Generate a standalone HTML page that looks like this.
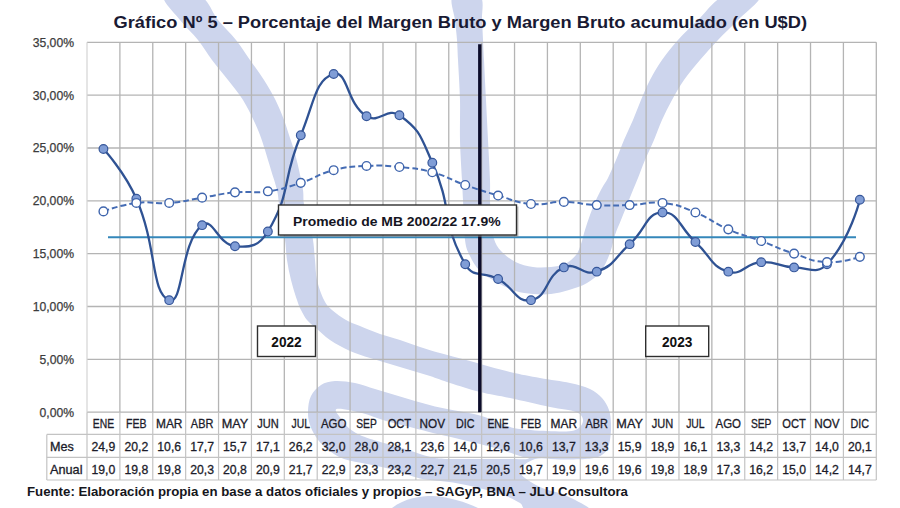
<!DOCTYPE html>
<html lang="es"><head><meta charset="utf-8"><title>Gráfico Nº 5</title>
<style>html,body{margin:0;padding:0;background:#fff}body{width:900px;height:508px;overflow:hidden;font-family:"Liberation Sans",sans-serif}svg{display:block}text{font-family:"Liberation Sans",sans-serif}</style></head><body>
<svg width="900" height="508" viewBox="0 0 900 508">
<rect width="900" height="508" fill="#fff"/>
<g fill="#cdd5ed">
<path d="M200.0,-4.0 C209.0,0.0 212.0,12.7 218.0,20.0 C224.0,27.3 230.7,33.3 236.0,40.0 C241.3,46.7 245.3,53.3 250.0,60.0 C254.7,66.7 259.8,73.3 264.0,80.0 C268.2,86.7 272.2,93.3 275.5,100.0 C278.8,106.7 281.8,114.2 284.0,120.0 C286.2,125.8 287.3,130.0 289.0,135.0 C290.7,140.0 292.3,144.2 294.0,150.0 C295.7,155.8 297.5,163.3 299.0,170.0 C300.5,176.7 302.2,184.3 303.0,190.0 C303.8,195.7 303.0,198.7 304.0,204.0 C305.0,209.3 307.5,216.0 309.0,222.0 C310.5,228.0 312.0,233.7 313.0,240.0 C314.0,246.3 314.3,253.3 315.0,260.0 C315.7,266.7 315.5,273.3 317.0,280.0 C318.5,286.7 321.5,295.0 324.0,300.0 C326.5,305.0 328.3,306.7 332.0,310.0 C335.7,313.3 341.3,317.3 346.0,320.0 C350.7,322.7 354.3,323.7 360.0,326.0 C365.7,328.3 373.3,331.7 380.0,334.0 C386.7,336.3 393.3,337.8 400.0,340.0 C406.7,342.2 413.3,344.8 420.0,347.0 C426.7,349.2 431.7,350.7 440.0,353.0 C448.3,355.3 458.3,357.8 470.0,361.0 C481.7,364.2 498.3,369.2 510.0,372.0 C521.7,374.8 530.0,376.2 540.0,378.0 C550.0,379.8 561.7,381.2 570.0,383.0 C578.3,384.8 584.7,386.5 590.0,389.0 C595.3,391.5 598.8,394.5 602.0,398.0 C605.2,401.5 607.5,405.7 609.0,410.0 C610.5,414.3 610.8,419.0 611.0,424.0 C611.2,429.0 610.8,435.5 610.0,440.0 C609.2,444.5 608.0,448.2 606.0,451.0 C604.0,453.8 601.5,455.7 598.0,457.0 C594.5,458.3 591.3,458.6 585.0,459.0 C578.7,459.4 568.3,459.5 560.0,459.5 C551.7,459.5 541.7,456.9 535.0,459.0 C528.3,461.1 519.2,467.3 520.0,472.0 C520.8,476.7 532.2,483.0 540.0,487.0 C547.8,491.0 558.7,491.8 567.0,496.0 C575.3,500.2 595.8,509.3 590.0,512.0 C584.2,514.7 543.7,513.5 532.0,512.0 C520.3,510.5 524.2,505.6 520.0,503.0 C515.8,500.4 513.2,498.8 507.0,496.5 C500.8,494.2 492.0,491.3 483.0,489.0 C474.0,486.7 463.5,484.2 453.0,482.5 C442.5,480.8 429.8,480.6 420.0,478.5 C410.2,476.4 402.8,472.4 394.0,470.0 C385.2,467.6 375.3,465.8 367.0,464.0 C358.7,462.2 350.7,461.5 344.0,459.0 C337.3,456.5 331.7,452.7 327.0,449.0 C322.3,445.3 318.9,441.2 316.0,437.0 C313.1,432.8 311.0,428.3 309.7,424.0 C308.4,419.7 307.8,415.7 308.0,411.0 C308.2,406.3 308.8,400.3 311.0,396.0 C313.2,391.7 317.0,387.5 321.0,385.0 C325.0,382.5 329.3,381.3 335.0,381.0 C340.7,380.7 348.3,381.7 355.0,383.0 C361.7,384.3 368.3,387.0 375.0,389.0 C381.7,391.0 388.3,393.0 395.0,395.0 C401.7,397.0 408.3,399.1 415.0,401.0 C421.7,402.9 428.3,404.9 435.0,406.5 C441.7,408.1 447.5,409.0 455.0,410.5 C462.5,412.0 472.5,413.4 480.0,415.5 C487.5,417.6 494.0,420.8 500.0,423.0 C506.0,425.2 508.2,427.2 516.0,428.5 C523.8,429.8 537.3,430.7 547.0,431.0 C556.7,431.3 568.0,432.2 574.0,430.5 C580.0,428.8 582.7,424.1 583.0,421.0 C583.3,417.9 581.5,414.3 576.0,412.0 C570.5,409.7 561.0,409.3 550.0,407.0 C539.0,404.7 521.7,400.5 510.0,398.0 C498.3,395.5 490.0,394.5 480.0,392.0 C470.0,389.5 458.3,385.7 450.0,383.0 C441.7,380.3 436.7,378.2 430.0,376.0 C423.3,373.8 416.7,372.0 410.0,370.0 C403.3,368.0 396.7,366.0 390.0,364.0 C383.3,362.0 376.7,360.2 370.0,358.0 C363.3,355.8 356.7,354.0 350.0,351.0 C343.3,348.0 335.7,343.8 330.0,340.0 C324.3,336.2 319.8,331.3 316.0,328.0 C312.2,324.7 309.5,323.0 307.0,320.0 C304.5,317.0 302.7,313.3 301.0,310.0 C299.3,306.7 298.7,305.0 297.0,300.0 C295.3,295.0 292.7,286.7 291.0,280.0 C289.3,273.3 288.0,266.7 287.0,260.0 C286.0,253.3 286.0,246.3 285.0,240.0 C284.0,233.7 282.0,228.0 281.0,222.0 C280.0,216.0 279.7,209.3 279.0,204.0 C278.3,198.7 278.3,195.7 277.0,190.0 C275.7,184.3 273.0,176.7 271.0,170.0 C269.0,163.3 266.8,155.8 265.0,150.0 C263.2,144.2 261.9,140.0 260.0,135.0 C258.1,130.0 256.3,125.8 253.5,120.0 C250.7,114.2 247.2,106.7 243.0,100.0 C238.8,93.3 233.2,86.7 228.0,80.0 C222.8,73.3 217.0,66.7 212.0,60.0 C207.0,53.3 203.3,46.7 198.0,40.0 C192.7,33.3 185.7,27.3 180.0,20.0 C174.3,12.7 160.7,0.0 164.0,-4.0 C167.3,-8.0 191.0,-8.0 200.0,-4.0Z"/>
</g>
<path d="M336.5,409.0 C339.7,407.7 353.8,411.0 362.0,413.0 C370.2,415.0 378.0,418.7 386.0,421.0 C394.0,423.3 401.8,424.9 410.0,427.0 C418.2,429.1 427.5,431.7 435.0,433.5 C442.5,435.3 447.5,436.2 455.0,438.0 C462.5,439.8 472.5,442.1 480.0,444.0 C487.5,445.9 493.3,447.5 500.0,449.5 C506.7,451.5 515.3,454.4 520.0,456.0 C524.7,457.6 531.3,458.5 528.0,459.0 C524.7,459.5 513.2,459.0 500.0,459.0 C486.8,459.0 459.8,459.2 449.0,459.0 C438.2,458.8 439.8,458.8 435.0,458.0 C430.2,457.2 425.0,455.5 420.0,454.0 C415.0,452.5 411.0,450.8 405.0,449.0 C399.0,447.2 391.2,445.2 384.0,443.0 C376.8,440.8 367.7,438.3 362.0,436.0 C356.3,433.7 353.2,431.5 350.0,429.0 C346.8,426.5 345.2,424.3 343.0,421.0 C340.8,417.7 333.3,410.3 336.5,409.0Z" fill="#fff"/>
<path d="M453.0,-4.0 C448.8,0.0 454.3,12.7 455.0,20.0 C455.7,27.3 456.5,33.3 457.0,40.0 C457.5,46.7 457.5,50.0 458.0,60.0 C458.5,70.0 459.7,86.7 460.0,100.0 C460.3,113.3 459.7,126.7 460.0,140.0 C460.3,153.3 461.5,170.0 462.0,180.0 C462.5,190.0 462.5,190.0 463.0,200.0 C463.5,210.0 463.8,230.7 465.0,240.0 C466.2,249.3 467.5,250.8 470.0,256.0 C472.5,261.2 475.3,266.5 480.0,271.0 C484.7,275.5 492.1,279.7 498.0,283.0 C503.9,286.3 509.7,289.2 515.5,291.0 C521.3,292.8 527.1,293.5 533.0,294.0 C538.9,294.5 545.0,294.7 551.0,294.0 C557.0,293.3 563.0,291.8 569.0,290.0 C575.0,288.2 581.7,286.2 587.0,283.0 C592.3,279.8 597.2,276.0 601.0,271.0 C604.8,266.0 607.7,259.0 610.0,253.0 C612.3,247.0 613.2,240.5 615.0,235.0 C616.8,229.5 619.0,225.0 621.0,220.0 C623.0,215.0 625.0,210.0 627.0,205.0 C629.0,200.0 631.2,194.5 633.0,190.0 C634.8,185.5 636.0,183.0 638.0,178.0 C640.0,173.0 642.3,166.3 645.0,160.0 C647.7,153.7 651.2,146.7 654.0,140.0 C656.8,133.3 659.0,126.7 662.0,120.0 C665.0,113.3 668.3,106.7 672.0,100.0 C675.7,93.3 679.3,86.7 684.0,80.0 C688.7,73.3 694.3,66.7 700.0,60.0 C705.7,53.3 711.7,46.7 718.0,40.0 C724.3,33.3 731.0,27.3 738.0,20.0 C745.0,12.7 762.3,0.0 760.0,-4.0 C757.7,-8.0 734.3,-8.0 724.0,-4.0 C713.7,0.0 705.7,12.7 698.0,20.0 C690.3,27.3 684.0,33.3 678.0,40.0 C672.0,46.7 666.7,53.3 662.0,60.0 C657.3,66.7 653.5,73.3 650.0,80.0 C646.5,86.7 643.8,93.3 641.0,100.0 C638.2,106.7 635.8,113.3 633.0,120.0 C630.2,126.7 626.8,133.3 624.0,140.0 C621.2,146.7 618.7,153.7 616.0,160.0 C613.3,166.3 610.3,173.3 608.0,178.0 C605.7,182.7 604.0,184.3 602.0,188.0 C600.0,191.7 598.0,195.5 596.0,200.0 C594.0,204.5 591.8,210.0 590.0,215.0 C588.2,220.0 586.5,225.2 585.0,230.0 C583.5,234.8 582.5,239.8 581.0,244.0 C579.5,248.2 578.7,251.7 576.0,255.0 C573.3,258.3 569.2,262.0 565.0,264.0 C560.8,266.0 556.3,266.5 551.0,267.0 C545.7,267.5 538.9,267.8 533.0,267.0 C527.1,266.2 520.8,264.7 515.5,262.0 C510.2,259.3 504.6,254.8 501.0,251.0 C497.4,247.2 495.7,244.2 494.0,239.0 C492.3,233.8 491.7,226.5 491.0,220.0 C490.3,213.5 490.2,206.7 490.0,200.0 C489.8,193.3 490.3,190.0 490.0,180.0 C489.7,170.0 488.7,153.3 488.0,140.0 C487.3,126.7 486.7,113.3 486.0,100.0 C485.3,86.7 484.5,70.0 484.0,60.0 C483.5,50.0 483.3,46.7 483.0,40.0 C482.7,33.3 482.5,27.3 482.0,20.0 C481.5,12.7 484.8,0.0 480.0,-4.0 C475.2,-8.0 457.2,-8.0 453.0,-4.0Z" fill="#cdd5ed"/>
<path d="M392,508 C405,498 420,496 433,496 C450,497 465,502 478,508Z" fill="#cdd5ed"/>
<g stroke="#b4b4b4" stroke-width="1.3" fill="none">
<line x1="87.00" y1="412.20" x2="876.30" y2="412.20"/>
<line x1="87.00" y1="359.36" x2="876.30" y2="359.36"/>
<line x1="87.00" y1="306.51" x2="876.30" y2="306.51"/>
<line x1="87.00" y1="253.67" x2="876.30" y2="253.67"/>
<line x1="87.00" y1="200.83" x2="876.30" y2="200.83"/>
<line x1="87.00" y1="147.99" x2="876.30" y2="147.99"/>
<line x1="87.00" y1="95.14" x2="876.30" y2="95.14"/>
<line x1="87.00" y1="42.30" x2="876.30" y2="42.30"/>
<line x1="119.89" y1="42.30" x2="119.89" y2="412.20"/>
<line x1="152.77" y1="42.30" x2="152.77" y2="412.20"/>
<line x1="185.66" y1="42.30" x2="185.66" y2="412.20"/>
<line x1="218.55" y1="42.30" x2="218.55" y2="412.20"/>
<line x1="251.44" y1="42.30" x2="251.44" y2="412.20"/>
<line x1="284.32" y1="42.30" x2="284.32" y2="412.20"/>
<line x1="317.21" y1="42.30" x2="317.21" y2="412.20"/>
<line x1="350.10" y1="42.30" x2="350.10" y2="412.20"/>
<line x1="382.99" y1="42.30" x2="382.99" y2="412.20"/>
<line x1="415.87" y1="42.30" x2="415.87" y2="412.20"/>
<line x1="448.76" y1="42.30" x2="448.76" y2="412.20"/>
<line x1="481.65" y1="42.30" x2="481.65" y2="412.20"/>
<line x1="514.54" y1="42.30" x2="514.54" y2="412.20"/>
<line x1="547.42" y1="42.30" x2="547.42" y2="412.20"/>
<line x1="580.31" y1="42.30" x2="580.31" y2="412.20"/>
<line x1="613.20" y1="42.30" x2="613.20" y2="412.20"/>
<line x1="646.09" y1="42.30" x2="646.09" y2="412.20"/>
<line x1="678.97" y1="42.30" x2="678.97" y2="412.20"/>
<line x1="711.86" y1="42.30" x2="711.86" y2="412.20"/>
<line x1="744.75" y1="42.30" x2="744.75" y2="412.20"/>
<line x1="777.64" y1="42.30" x2="777.64" y2="412.20"/>
<line x1="810.52" y1="42.30" x2="810.52" y2="412.20"/>
<line x1="843.41" y1="42.30" x2="843.41" y2="412.20"/>
<line x1="876.30" y1="42.30" x2="876.30" y2="412.20"/>
</g>
<line x1="87.00" y1="42.30" x2="87.00" y2="412.20" stroke="#d4d4d4" stroke-width="1.2"/>
<g stroke="#c3c3c3" stroke-width="1.2" fill="none">
<line x1="87.00" y1="412.20" x2="87.00" y2="480.00"/>
<line x1="119.89" y1="412.20" x2="119.89" y2="480.00"/>
<line x1="152.77" y1="412.20" x2="152.77" y2="480.00"/>
<line x1="185.66" y1="412.20" x2="185.66" y2="480.00"/>
<line x1="218.55" y1="412.20" x2="218.55" y2="480.00"/>
<line x1="251.44" y1="412.20" x2="251.44" y2="480.00"/>
<line x1="284.32" y1="412.20" x2="284.32" y2="480.00"/>
<line x1="317.21" y1="412.20" x2="317.21" y2="480.00"/>
<line x1="350.10" y1="412.20" x2="350.10" y2="480.00"/>
<line x1="382.99" y1="412.20" x2="382.99" y2="480.00"/>
<line x1="415.87" y1="412.20" x2="415.87" y2="480.00"/>
<line x1="448.76" y1="412.20" x2="448.76" y2="480.00"/>
<line x1="481.65" y1="412.20" x2="481.65" y2="480.00"/>
<line x1="514.54" y1="412.20" x2="514.54" y2="480.00"/>
<line x1="547.42" y1="412.20" x2="547.42" y2="480.00"/>
<line x1="580.31" y1="412.20" x2="580.31" y2="480.00"/>
<line x1="613.20" y1="412.20" x2="613.20" y2="480.00"/>
<line x1="646.09" y1="412.20" x2="646.09" y2="480.00"/>
<line x1="678.97" y1="412.20" x2="678.97" y2="480.00"/>
<line x1="711.86" y1="412.20" x2="711.86" y2="480.00"/>
<line x1="744.75" y1="412.20" x2="744.75" y2="480.00"/>
<line x1="777.64" y1="412.20" x2="777.64" y2="480.00"/>
<line x1="810.52" y1="412.20" x2="810.52" y2="480.00"/>
<line x1="843.41" y1="412.20" x2="843.41" y2="480.00"/>
<line x1="876.30" y1="412.20" x2="876.30" y2="480.00"/>
<line x1="46.80" y1="434.40" x2="46.80" y2="480.00"/>
<line x1="46.80" y1="434.40" x2="876.30" y2="434.40"/>
<line x1="46.80" y1="457.30" x2="876.30" y2="457.30"/>
<line x1="46.80" y1="480.00" x2="876.30" y2="480.00"/>
</g>
<g font-size="12.2" fill="#3c3c3c" stroke="#3c3c3c" stroke-width="0.25" text-anchor="end">
<text x="74" y="416.70" textLength="34.5" lengthAdjust="spacingAndGlyphs">0,00%</text>
<text x="74" y="363.86" textLength="34.5" lengthAdjust="spacingAndGlyphs">5,00%</text>
<text x="74" y="311.01" textLength="41.3" lengthAdjust="spacingAndGlyphs">10,00%</text>
<text x="74" y="258.17" textLength="41.3" lengthAdjust="spacingAndGlyphs">15,00%</text>
<text x="74" y="205.33" textLength="41.3" lengthAdjust="spacingAndGlyphs">20,00%</text>
<text x="74" y="152.49" textLength="41.3" lengthAdjust="spacingAndGlyphs">25,00%</text>
<text x="74" y="99.64" textLength="41.3" lengthAdjust="spacingAndGlyphs">30,00%</text>
<text x="74" y="46.80" textLength="41.3" lengthAdjust="spacingAndGlyphs">35,00%</text>
</g>
<g font-size="12.2" fill="#1c1c2a" stroke="#1c1c2a" stroke-width="0.3" text-anchor="middle">
<text x="103.44" y="428.2" textLength="21.3" lengthAdjust="spacingAndGlyphs">ENE</text>
<text x="136.33" y="428.2" textLength="20.5" lengthAdjust="spacingAndGlyphs">FEB</text>
<text x="169.22" y="428.2" textLength="26.5" lengthAdjust="spacingAndGlyphs">MAR</text>
<text x="202.11" y="428.2" textLength="22.5" lengthAdjust="spacingAndGlyphs">ABR</text>
<text x="234.99" y="428.2" textLength="26.5" lengthAdjust="spacingAndGlyphs">MAY</text>
<text x="267.88" y="428.2" textLength="21.5" lengthAdjust="spacingAndGlyphs">JUN</text>
<text x="300.77" y="428.2" textLength="18.5" lengthAdjust="spacingAndGlyphs">JUL</text>
<text x="333.66" y="428.2" textLength="25.5" lengthAdjust="spacingAndGlyphs">AGO</text>
<text x="366.54" y="428.2" textLength="20.5" lengthAdjust="spacingAndGlyphs">SEP</text>
<text x="399.43" y="428.2" textLength="23.5" lengthAdjust="spacingAndGlyphs">OCT</text>
<text x="432.32" y="428.2" textLength="25.5" lengthAdjust="spacingAndGlyphs">NOV</text>
<text x="465.21" y="428.2" textLength="18.5" lengthAdjust="spacingAndGlyphs">DIC</text>
<text x="498.09" y="428.2" textLength="21.3" lengthAdjust="spacingAndGlyphs">ENE</text>
<text x="530.98" y="428.2" textLength="20.5" lengthAdjust="spacingAndGlyphs">FEB</text>
<text x="563.87" y="428.2" textLength="26.5" lengthAdjust="spacingAndGlyphs">MAR</text>
<text x="596.76" y="428.2" textLength="22.5" lengthAdjust="spacingAndGlyphs">ABR</text>
<text x="629.64" y="428.2" textLength="26.5" lengthAdjust="spacingAndGlyphs">MAY</text>
<text x="662.53" y="428.2" textLength="21.5" lengthAdjust="spacingAndGlyphs">JUN</text>
<text x="695.42" y="428.2" textLength="18.5" lengthAdjust="spacingAndGlyphs">JUL</text>
<text x="728.31" y="428.2" textLength="25.5" lengthAdjust="spacingAndGlyphs">AGO</text>
<text x="761.19" y="428.2" textLength="20.5" lengthAdjust="spacingAndGlyphs">SEP</text>
<text x="794.08" y="428.2" textLength="23.5" lengthAdjust="spacingAndGlyphs">OCT</text>
<text x="826.97" y="428.2" textLength="25.5" lengthAdjust="spacingAndGlyphs">NOV</text>
<text x="859.86" y="428.2" textLength="18.5" lengthAdjust="spacingAndGlyphs">DIC</text>
<text x="103.44" y="451.2" textLength="23.8" lengthAdjust="spacingAndGlyphs">24,9</text>
<text x="136.33" y="451.2" textLength="23.8" lengthAdjust="spacingAndGlyphs">20,2</text>
<text x="169.22" y="451.2" textLength="23.8" lengthAdjust="spacingAndGlyphs">10,6</text>
<text x="202.11" y="451.2" textLength="23.8" lengthAdjust="spacingAndGlyphs">17,7</text>
<text x="234.99" y="451.2" textLength="23.8" lengthAdjust="spacingAndGlyphs">15,7</text>
<text x="267.88" y="451.2" textLength="23.8" lengthAdjust="spacingAndGlyphs">17,1</text>
<text x="300.77" y="451.2" textLength="23.8" lengthAdjust="spacingAndGlyphs">26,2</text>
<text x="333.66" y="451.2" textLength="23.8" lengthAdjust="spacingAndGlyphs">32,0</text>
<text x="366.54" y="451.2" textLength="23.8" lengthAdjust="spacingAndGlyphs">28,0</text>
<text x="399.43" y="451.2" textLength="23.8" lengthAdjust="spacingAndGlyphs">28,1</text>
<text x="432.32" y="451.2" textLength="23.8" lengthAdjust="spacingAndGlyphs">23,6</text>
<text x="465.21" y="451.2" textLength="23.8" lengthAdjust="spacingAndGlyphs">14,0</text>
<text x="498.09" y="451.2" textLength="23.8" lengthAdjust="spacingAndGlyphs">12,6</text>
<text x="530.98" y="451.2" textLength="23.8" lengthAdjust="spacingAndGlyphs">10,6</text>
<text x="563.87" y="451.2" textLength="23.8" lengthAdjust="spacingAndGlyphs">13,7</text>
<text x="596.76" y="451.2" textLength="23.8" lengthAdjust="spacingAndGlyphs">13,3</text>
<text x="629.64" y="451.2" textLength="23.8" lengthAdjust="spacingAndGlyphs">15,9</text>
<text x="662.53" y="451.2" textLength="23.8" lengthAdjust="spacingAndGlyphs">18,9</text>
<text x="695.42" y="451.2" textLength="23.8" lengthAdjust="spacingAndGlyphs">16,1</text>
<text x="728.31" y="451.2" textLength="23.8" lengthAdjust="spacingAndGlyphs">13,3</text>
<text x="761.19" y="451.2" textLength="23.8" lengthAdjust="spacingAndGlyphs">14,2</text>
<text x="794.08" y="451.2" textLength="23.8" lengthAdjust="spacingAndGlyphs">13,7</text>
<text x="826.97" y="451.2" textLength="23.8" lengthAdjust="spacingAndGlyphs">14,0</text>
<text x="859.86" y="451.2" textLength="23.8" lengthAdjust="spacingAndGlyphs">20,1</text>
<text x="103.44" y="474.0" textLength="23.8" lengthAdjust="spacingAndGlyphs">19,0</text>
<text x="136.33" y="474.0" textLength="23.8" lengthAdjust="spacingAndGlyphs">19,8</text>
<text x="169.22" y="474.0" textLength="23.8" lengthAdjust="spacingAndGlyphs">19,8</text>
<text x="202.11" y="474.0" textLength="23.8" lengthAdjust="spacingAndGlyphs">20,3</text>
<text x="234.99" y="474.0" textLength="23.8" lengthAdjust="spacingAndGlyphs">20,8</text>
<text x="267.88" y="474.0" textLength="23.8" lengthAdjust="spacingAndGlyphs">20,9</text>
<text x="300.77" y="474.0" textLength="23.8" lengthAdjust="spacingAndGlyphs">21,7</text>
<text x="333.66" y="474.0" textLength="23.8" lengthAdjust="spacingAndGlyphs">22,9</text>
<text x="366.54" y="474.0" textLength="23.8" lengthAdjust="spacingAndGlyphs">23,3</text>
<text x="399.43" y="474.0" textLength="23.8" lengthAdjust="spacingAndGlyphs">23,2</text>
<text x="432.32" y="474.0" textLength="23.8" lengthAdjust="spacingAndGlyphs">22,7</text>
<text x="465.21" y="474.0" textLength="23.8" lengthAdjust="spacingAndGlyphs">21,5</text>
<text x="498.09" y="474.0" textLength="23.8" lengthAdjust="spacingAndGlyphs">20,5</text>
<text x="530.98" y="474.0" textLength="23.8" lengthAdjust="spacingAndGlyphs">19,7</text>
<text x="563.87" y="474.0" textLength="23.8" lengthAdjust="spacingAndGlyphs">19,9</text>
<text x="596.76" y="474.0" textLength="23.8" lengthAdjust="spacingAndGlyphs">19,6</text>
<text x="629.64" y="474.0" textLength="23.8" lengthAdjust="spacingAndGlyphs">19,6</text>
<text x="662.53" y="474.0" textLength="23.8" lengthAdjust="spacingAndGlyphs">19,8</text>
<text x="695.42" y="474.0" textLength="23.8" lengthAdjust="spacingAndGlyphs">18,9</text>
<text x="728.31" y="474.0" textLength="23.8" lengthAdjust="spacingAndGlyphs">17,3</text>
<text x="761.19" y="474.0" textLength="23.8" lengthAdjust="spacingAndGlyphs">16,2</text>
<text x="794.08" y="474.0" textLength="23.8" lengthAdjust="spacingAndGlyphs">15,0</text>
<text x="826.97" y="474.0" textLength="23.8" lengthAdjust="spacingAndGlyphs">14,2</text>
<text x="859.86" y="474.0" textLength="23.8" lengthAdjust="spacingAndGlyphs">14,7</text>
</g>
<g font-size="12.2" fill="#1c1c2a" stroke="#1c1c2a" stroke-width="0.3">
<text x="50" y="451.2" textLength="23.8" lengthAdjust="spacingAndGlyphs">Mes</text>
<text x="50" y="474.0" textLength="32.5" lengthAdjust="spacingAndGlyphs">Anual</text>
</g>
<line x1="108" y1="237.3" x2="856" y2="237.3" stroke="#3487ba" stroke-width="2"/>
<path d="M103.44,149.04 C103.44,149.04 124.55,171.63 136.33,198.71 C157.43,247.20 150.62,292.70 169.22,300.17 C183.51,305.91 179.84,243.38 202.11,225.14 C212.73,216.43 217.89,244.62 234.99,246.27 C250.77,247.79 259.27,246.01 267.88,231.48 C292.16,190.52 281.24,182.05 300.77,135.30 C314.13,103.31 315.08,79.38 333.66,74.01 C347.96,69.87 346.17,103.51 366.54,116.28 C379.06,124.12 387.50,106.79 399.43,115.22 C420.39,130.04 420.76,136.59 432.32,162.78 C453.64,211.10 440.63,220.80 465.21,264.24 C473.52,278.93 482.31,270.42 498.09,279.04 C515.20,288.38 515.95,302.83 530.98,300.17 C548.83,297.02 544.68,275.73 563.87,267.41 C577.57,261.47 582.41,276.71 596.76,271.64 C615.30,265.08 613.72,258.48 629.64,244.16 C646.61,228.89 645.82,212.99 662.53,212.45 C678.71,211.93 678.97,227.25 695.42,242.05 C711.86,256.84 709.77,265.98 728.31,271.64 C742.65,276.02 744.52,263.20 761.19,262.13 C777.41,261.08 777.57,266.88 794.08,267.41 C810.46,267.94 816.66,274.84 826.97,264.24 C849.55,241.02 859.86,199.77 859.86,199.77" fill="none" stroke="#2f5293" stroke-width="2.3" stroke-linejoin="round"/>
<g fill="#809dd6" stroke="#35569a" stroke-width="1.2">
<circle cx="103.44" cy="149.04" r="4.35"/>
<circle cx="136.33" cy="198.71" r="4.35"/>
<circle cx="169.22" cy="300.17" r="4.35"/>
<circle cx="202.11" cy="225.14" r="4.35"/>
<circle cx="234.99" cy="246.27" r="4.35"/>
<circle cx="267.88" cy="231.48" r="4.35"/>
<circle cx="300.77" cy="135.30" r="4.35"/>
<circle cx="333.66" cy="74.01" r="4.35"/>
<circle cx="366.54" cy="116.28" r="4.35"/>
<circle cx="399.43" cy="115.22" r="4.35"/>
<circle cx="432.32" cy="162.78" r="4.35"/>
<circle cx="465.21" cy="264.24" r="4.35"/>
<circle cx="498.09" cy="279.04" r="4.35"/>
<circle cx="530.98" cy="300.17" r="4.35"/>
<circle cx="563.87" cy="267.41" r="4.35"/>
<circle cx="596.76" cy="271.64" r="4.35"/>
<circle cx="629.64" cy="244.16" r="4.35"/>
<circle cx="662.53" cy="212.45" r="4.35"/>
<circle cx="695.42" cy="242.05" r="4.35"/>
<circle cx="728.31" cy="271.64" r="4.35"/>
<circle cx="761.19" cy="262.13" r="4.35"/>
<circle cx="794.08" cy="267.41" r="4.35"/>
<circle cx="826.97" cy="264.24" r="4.35"/>
<circle cx="859.86" cy="199.77" r="4.35"/>
</g>
<path d="M103.44,211.40 C103.44,211.40 119.62,205.09 136.33,202.94 C152.51,200.86 152.88,204.25 169.22,202.94 C185.77,201.61 185.66,200.30 202.11,197.66 C218.55,195.02 218.45,193.97 234.99,192.37 C251.34,190.80 251.70,193.66 267.88,191.32 C284.58,188.90 284.63,188.05 300.77,182.86 C317.52,177.48 316.71,174.54 333.66,170.18 C349.60,166.08 350.04,166.75 366.54,165.95 C382.92,165.16 383.09,165.43 399.43,167.01 C415.98,168.60 416.34,167.93 432.32,172.29 C449.23,176.91 448.60,179.10 465.21,184.98 C481.48,190.73 481.51,190.75 498.09,195.54 C514.40,200.26 514.29,202.39 530.98,204.00 C547.18,205.56 547.45,201.62 563.87,201.89 C580.33,202.15 580.27,204.26 596.76,205.06 C613.16,205.85 613.22,205.58 629.64,205.06 C646.10,204.53 646.40,201.13 662.53,202.94 C679.29,204.83 679.61,206.10 695.42,212.45 C712.50,219.31 711.38,222.02 728.31,229.36 C744.27,236.29 744.84,234.94 761.19,240.99 C777.72,247.10 777.33,248.29 794.08,253.67 C810.22,258.86 810.37,261.33 826.97,262.13 C843.25,262.91 859.86,256.84 859.86,256.84" fill="none" stroke="#456cb4" stroke-width="2" stroke-dasharray="6 3"/>
<g fill="#fff" stroke="#3f65ad" stroke-width="1.4">
<circle cx="103.44" cy="211.40" r="4.35"/>
<circle cx="136.33" cy="202.94" r="4.35"/>
<circle cx="169.22" cy="202.94" r="4.35"/>
<circle cx="202.11" cy="197.66" r="4.35"/>
<circle cx="234.99" cy="192.37" r="4.35"/>
<circle cx="267.88" cy="191.32" r="4.35"/>
<circle cx="300.77" cy="182.86" r="4.35"/>
<circle cx="333.66" cy="170.18" r="4.35"/>
<circle cx="366.54" cy="165.95" r="4.35"/>
<circle cx="399.43" cy="167.01" r="4.35"/>
<circle cx="432.32" cy="172.29" r="4.35"/>
<circle cx="465.21" cy="184.98" r="4.35"/>
<circle cx="498.09" cy="195.54" r="4.35"/>
<circle cx="530.98" cy="204.00" r="4.35"/>
<circle cx="563.87" cy="201.89" r="4.35"/>
<circle cx="596.76" cy="205.06" r="4.35"/>
<circle cx="629.64" cy="205.06" r="4.35"/>
<circle cx="662.53" cy="202.94" r="4.35"/>
<circle cx="695.42" cy="212.45" r="4.35"/>
<circle cx="728.31" cy="229.36" r="4.35"/>
<circle cx="761.19" cy="240.99" r="4.35"/>
<circle cx="794.08" cy="253.67" r="4.35"/>
<circle cx="826.97" cy="262.13" r="4.35"/>
<circle cx="859.86" cy="256.84" r="4.35"/>
</g>
<line x1="479.8" y1="44.30" x2="479.8" y2="412.20" stroke="#0c0c2a" stroke-width="3.4"/>
<rect x="280" y="206.5" width="238.5" height="30.5" fill="#8a8a8a" opacity="0.5"/>
<rect x="278.5" y="205" width="238" height="30" fill="#fff" stroke="#2e2e2e" stroke-width="1.4"/>
<text x="293" y="226.2" font-size="13.7" font-weight="bold" fill="#15151f" textLength="207.6" lengthAdjust="spacingAndGlyphs">Promedio de MB 2002/22 17.9%</text>
<rect x="257.5" y="326.0" width="58.0" height="30.5" fill="#fff" stroke="#2e2e2e" stroke-width="1.4"/>
<text x="286.5" y="346.5" font-size="14.3" font-weight="bold" fill="#111" text-anchor="middle" textLength="30.4" lengthAdjust="spacingAndGlyphs">2022</text>
<rect x="645.7" y="326.0" width="63.0" height="30.5" fill="#fff" stroke="#2e2e2e" stroke-width="1.4"/>
<text x="677.2" y="346.5" font-size="14.3" font-weight="bold" fill="#111" text-anchor="middle" textLength="30.4" lengthAdjust="spacingAndGlyphs">2023</text>
<text x="113.5" y="27.6" font-size="17.2" font-weight="bold" fill="#191a33" textLength="693.5" lengthAdjust="spacingAndGlyphs">Gráfico Nº 5 – Porcentaje del Margen Bruto y Margen Bruto acumulado (en U$D)</text>
<text x="27" y="495.5" font-size="13.5" font-weight="bold" fill="#16161c" textLength="601" lengthAdjust="spacingAndGlyphs">Fuente: Elaboración propia en base a datos oficiales y propios – SAGyP, BNA – JLU Consultora</text>
</svg></body></html>
